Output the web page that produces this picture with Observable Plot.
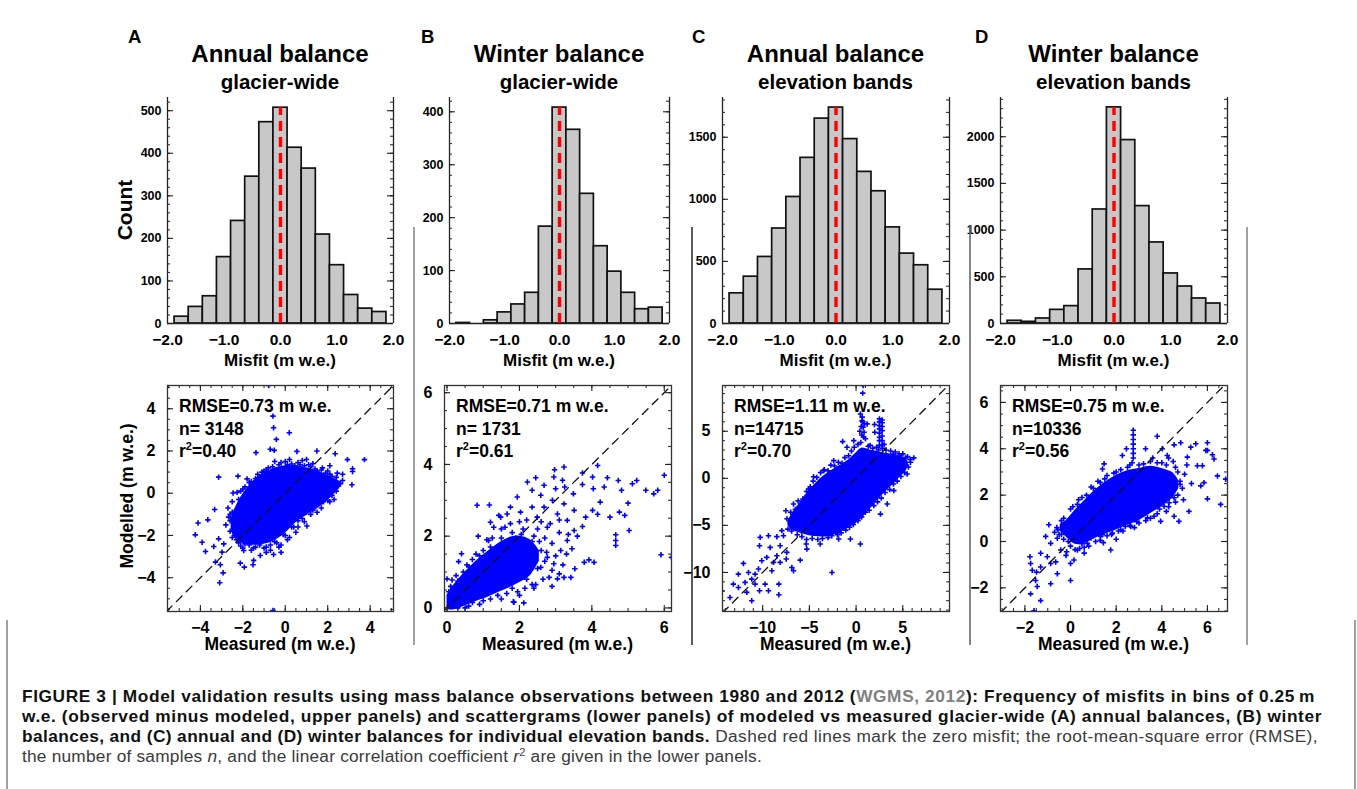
<!DOCTYPE html>
<html><head><meta charset="utf-8">
<script src="https://cdn.jsdelivr.net/npm/d3@7"></script>
<script src="https://cdn.jsdelivr.net/npm/@observablehq/plot@0.6"></script>
<style>
body{margin:0;background:#fff;}
#root{position:relative;width:1357px;height:789px;overflow:hidden;font-family:"Liberation Sans",Arial,sans-serif;background:#fff;}
.pl{position:absolute;}
#overlay{position:absolute;left:0;top:0;pointer-events:none;}
#caption{position:absolute;left:22px;top:686px;font-size:17.3px;line-height:20px;white-space:nowrap;color:#3a3a3a;}
#caption .ln{display:block;width:max-content;}
#caption b{color:#111;}
#caption .lnk{color:#808080;}
#caption .sup{font-size:11px;position:relative;top:-6px;}
</style></head>
<body><div id="root"></div>
<script>
// ---------- DATA ----------
const panelLetters = ["A", "B", "C", "D"];
const titles = ["Annual balance", "Winter balance", "Annual balance", "Winter balance"];
const subtitles = ["glacier-wide", "glacier-wide", "elevation bands", "elevation bands"];

// histogram bins (centres, m w.e.) and counts
const misfitBins = [-1.75, -1.5, -1.25, -1, -0.75, -0.5, -0.25, 0, 0.25, 0.5, 0.75, 1, 1.25, 1.5, 1.75];
const binWidth = 0.25;
const countsA = [16, 39, 64, 156, 241, 345, 473, 507, 413, 364, 209, 137, 67, 35, 27];
const countsB = [1, 0, 6, 21, 36, 58, 183, 408, 366, 245, 146, 98, 58, 27, 30];
const countsC = [243, 377, 536, 765, 1019, 1334, 1650, 1739, 1485, 1221, 1065, 774, 563, 469, 272];
const countsD = [29, 18, 54, 146, 186, 579, 1221, 2314, 1964, 1257, 868, 536, 396, 268, 214];
const histCounts = [countsA, countsB, countsC, countsD];

const histXTicks = [-2, -1, 0, 1, 2];
const histYTicksA = [0, 100, 200, 300, 400, 500];
const histYTicksB = [0, 100, 200, 300, 400];
const histYTicksC = [0, 500, 1000, 1500];
const histYTicksD = [0, 500, 1000, 1500, 2000];
const histYTicks = [histYTicksA, histYTicksB, histYTicksC, histYTicksD];

// scatter statistics
const rmseValues = ["0.73", "0.71", "1.11", "0.75"];
const nValues = [3148, 1731, 14715, 10336];
const r2Values = ["0.40", "0.61", "0.70", "0.56"];

const scatTicksA = [-4, -2, 0, 2, 4];
const scatTicksB = [0, 2, 4, 6];
const scatTicksC = [-10, -5, 0, 5];
const scatTicksD = [-2, 0, 2, 4, 6];
const scatTicks = [scatTicksA, scatTicksB, scatTicksC, scatTicksD];

// dense cores of the scatter clouds (outline: measured x, modelled lower/upper)
const coreAx = [-2.55, -2.4, -2.1, -1.7, -1.2, -0.6, 0.0, 0.5, 1.0, 1.5, 2.0, 2.4, 2.6];
const coreAlo = [-1.7, -2.1, -2.35, -2.45, -2.45, -2.3, -1.9, -1.4, -1.05, -0.75, -0.35, 0.05, 0.3];
const coreAhi = [-1.2, -0.8, -0.2, 0.35, 0.85, 1.15, 1.3, 1.3, 1.2, 1.05, 0.85, 0.65, 0.55];
const coreBx = [0.0, 0.2, 0.5, 0.8, 1.1, 1.4, 1.7, 2.0, 2.3, 2.55];
const coreBlo = [-0.05, -0.05, 0.05, 0.18, 0.28, 0.42, 0.55, 0.7, 0.9, 1.3];
const coreBhi = [0.35, 0.65, 1.0, 1.3, 1.55, 1.78, 1.95, 2.0, 1.9, 1.6];
const coreCx = [-7.3, -7.0, -6.0, -5.0, -4.0, -3.0, -2.0, -1.0, 0.0, 0.6, 1.5, 2.5, 3.5, 4.5, 5.3, 5.6];
const coreClo = [-5.0, -5.4, -5.8, -6.1, -6.2, -6.2, -5.9, -5.4, -4.8, -4.3, -3.3, -2.1, -1.1, -0.1, 0.7, 1.3];
const coreChi = [-4.6, -4.0, -2.6, -1.3, -0.2, 0.6, 1.2, 1.8, 2.7, 3.2, 3.0, 2.8, 2.6, 2.4, 2.1, 1.7];
const coreDx = [-0.45, -0.2, 0.2, 0.6, 1.0, 1.5, 2.0, 2.5, 3.0, 3.5, 4.0, 4.5, 4.75];
const coreDlo = [0.45, 0.2, -0.12, -0.1, 0.1, 0.3, 0.5, 0.7, 0.9, 1.2, 1.5, 1.9, 2.3];
const coreDhi = [0.75, 0.9, 1.35, 1.75, 2.15, 2.55, 2.85, 3.05, 3.15, 3.25, 3.15, 2.95, 2.6];

// individual (scattered) samples: [measured, modelled]
const pointsA = [[-0.78,5.1],[-0.58,3.65],[-0.55,3.1],[-0.42,2.55],[0.19,2.86],[-0.71,2.08],[-0.52,2.03],[-1.38,1.92],[0.55,1.98],[1.49,2.0],[2.35,1.87],[2.93,1.59],[3.73,1.59],[3.17,1.16],[3.17,1.03],[3.14,0.4],[2.35,0.2],[2.0,-0.34],[-3.14,0.76],[-2.23,0.81],[-1.8,0.68],[-1.57,0.26],[-2.27,0.04],[-2.46,0.01],[-3.33,-0.77],[-4.11,-1.41],[-3.65,-1.26],[-2.67,-1.13],[-4.24,-1.97],[-3.92,-2.32],[-3.76,-2.76],[-3.14,-2.16],[-3.37,-2.52],[-2.9,-2.4],[-2.98,-2.79],[-3.29,-3.26],[-3.06,-3.39],[-2.93,-3.77],[-3.09,-4.24],[-2.12,-3.31],[-1.93,-3.5],[-1.52,-3.39],[-1.49,-3.18],[-0.55,-2.9],[1.02,-1.55],[-0.58,-5.55],[-1.96,-2.71],[-1.18,-2.95],
[-2.4,-1.5],[-2.3,-0.8],[-2.1,0.1],[-1.7,0.5],[-1.3,0.9],[-0.8,1.2],[-0.3,1.35],[0.3,1.38],[0.9,1.3],[1.4,1.15],[1.9,0.95],[2.4,0.75],[2.5,0.35],[2.2,-0.1],[1.8,-0.4],[1.3,-0.8],[0.8,-1.2],[0.4,-1.6],[0.0,-2.0],[-0.4,-2.35],[-0.9,-2.55],[-1.4,-2.55],[-1.9,-2.4],[-2.3,-2.2],[-2.6,-1.8],[-2.5,-0.4],[-1.9,0.3],[-1.0,1.05],[0.0,1.5],[0.6,1.45],[1.2,1.25],[1.7,1.1],[2.1,0.9],[2.7,0.6],[2.3,-0.3],[1.5,-0.9],[0.6,-1.6],[0.2,-2.1],[-0.2,-2.45],[-0.7,-2.7],[-1.6,-2.7],[-2.1,-2.5],[-2.8,-1.5],[-2.6,-1.0],[2.1,1.3],[1.0,1.6],[-0.5,1.5],[1.6,-0.2],
[-2.5,-0.9],[-2.2,-0.3],[-2.0,0.2],[-1.8,0.05],[-1.6,0.55],[-1.4,0.7],[-1.2,0.75],[-1.1,1.0],[-0.9,1.1],[-0.6,1.25],[-0.4,1.1],[-0.2,1.45],[0.1,1.35],[0.2,1.6],[0.45,1.3],[0.7,1.35],[0.8,1.55],[1.1,1.35],[1.3,1.4],[1.5,1.05],[1.75,1.2],[2.0,1.05],[2.2,0.8],[2.45,0.95],[2.6,0.45],[2.4,0.1],[2.7,0.9],
[2.1,-0.4],[1.9,-0.2],[1.7,-0.7],[1.4,-0.55],[1.2,-1.0],[1.0,-0.9],[0.9,-1.35],[0.6,-1.3],[0.5,-1.85],[0.3,-1.6],[0.1,-2.2],[-0.1,-1.95],[-0.3,-2.55],[-0.5,-2.3],[-0.7,-2.45],[-1.0,-2.6],[-1.2,-2.45],[-1.5,-2.6],[-1.7,-2.45],[-2.0,-2.6],[-2.2,-2.35],[-2.5,-2.1],[-2.4,-1.8],[-2.6,-1.3],[-2.7,-0.7],[-2.3,-1.1],[-0.2,-2.8],[-0.9,-2.8]];
const pointsB = [[0,0.81],[0.14,0.78],[0.4,1.51],[0.32,1.29],[0.86,2.0],[1.17,2.87],[1.43,2.58],[1.2,2.39],[1.85,0.16],[2.12,0.14],[2.22,3.51],[2.45,3.63],[2.68,3.42],[2.95,3.65],[2.97,3.85],[3.23,3.93],[3.0,3.32],[3.25,3.37],[3.49,3.18],[3.74,3.76],[4.02,3.65],[4.16,3.97],[3.74,3.44],[4.04,3.32],[4.34,3.37],[4.43,3.63],[4.73,3.55],[4.82,3.28],[5.12,3.46],[5.24,3.55],[5.49,3.28],[5.71,3.18],[5.82,3.28],[6.0,3.7],[5.91,1.48],[6.2,1.41],[4.66,2.04],[4.66,1.88],[4.66,1.74],[5.03,2.16],[5.0,2.92],[4.91,2.58],[4.76,2.67],[4.5,2.53],[4.23,2.95],[4.16,2.61],[4.02,2.72],[3.83,2.53],[3.74,2.27],[3.92,1.34],[4.06,1.27],[3.79,1.27],[3.53,1.09],[3.42,0.85],[3.23,0.85],[3.05,0.81],[2.82,0.85],[2.45,0.65],[1.83,0.17],[0.83,2.86],[1.48,2.53],[1.75,2.81],[2.03,2.67],[2.35,2.81],[2.49,2.53],[2.68,2.81],[2.77,2.25],[3.05,2.62],[3.32,2.44],[3.51,2.16],[3.32,1.88],[3.14,1.6],[2.95,1.23],[2.77,1.41],[2.59,1.13],[2.31,1.32],[3.51,2.72],[3.23,2.9],[2.91,3.0],[2.59,3.14],[2.35,3.28],[1.94,3.09],[1.66,2.62],[1.29,2.25],[1.15,1.88],[3.19,3.56],
[0.3,0.75],[0.6,1.15],[0.9,1.45],[1.2,1.7],[1.5,1.95],[1.8,2.1],[2.1,2.2],[2.4,2.0],[2.6,1.6],[2.5,1.1],[2.2,0.8],[1.8,0.55],[1.4,0.35],[1.0,0.2],[0.6,0.05],[0.3,0.0],[0.1,0.35],[0.45,1.0],[2.7,1.3],[2.9,1.8],[3.1,2.1],[2.6,2.4],[2.0,2.4],[1.6,2.25],[1.1,1.9],[0.7,1.35],[3.3,1.5],[2.9,0.6],[2.4,0.55],[2.0,0.35],
[0.1,0.6],[0.25,0.9],[0.4,0.7],[0.55,1.2],[0.7,1.0],[0.8,1.5],[1.0,1.6],[1.05,1.25],[1.25,1.95],[1.35,1.65],[1.5,2.2],[1.6,1.8],[1.75,2.35],[1.9,1.95],[2.05,2.05],[2.2,2.45],[2.35,1.85],[2.5,2.2],[2.55,1.85],[2.7,1.95],[2.75,1.55],[2.85,2.35],[2.9,1.05],[3.0,1.45],[3.1,2.45],[3.2,1.2],[3.35,2.05],[3.45,1.65],[3.6,2.0],[3.1,0.95],[2.65,0.8],[2.35,0.65],[2.15,0.55],[1.95,0.45],[1.65,0.4],[1.5,0.25],[1.2,0.25],[0.9,0.1],[0.7,0.15],[0.5,0.0],[0.2,0.15],[0.05,0.45],[1.6,0.65],[1.9,0.9],[2.3,1.1]];
const pointsC = [[0.75,9.86],[0.71,9.05],[0.46,6.84],[0.64,6.13],[0.75,5.43],[1.18,5.78],[1.97,5.71],[2.0,4.89],[2.5,6.31],[2.5,5.25],[2.5,4.36],[2.79,6.2],[2.79,5.07],[2.79,4.0],[-1.44,3.9],[3.97,2.59],[5.29,2.17],[6.18,2.17],[4.94,0.82],[4.58,1.88],[2.25,-2.02],[0.46,-2.73],[0.46,-6.98],[-1.87,-6.45],[-0.61,-6.45],[-2.04,-5.74],[-2.58,-10.0],[-5.34,-6.98],[-4.55,0.17],[-5.09,-1.14],[-5.45,-2.02],[-6.7,-2.73],[-7.52,-3.44],[-6.52,-3.97],[-6.34,-5.14],[-7.95,-5.56],[-7.77,-6.1],[-8.48,-6.2],[-9.38,-6.1],[-10.27,-6.27],[-10.34,-7.16],[-9.2,-7.34],[-8.13,-7.16],[-7.41,-7.87],[-8.48,-8.23],[-7.48,-8.58],[-8.13,-8.93],[-6.88,-9.47],[-6.7,-9.82],[-8.84,-8.93],[-9.02,-9.82],[-9.56,-8.4],[-10.1,-8.76],[-10.45,-9.64],[-10.81,-10.18],[-11.52,-10.0],[-11.17,-10.71],[-10.81,-11.24],[-10.34,-11.95],[-11.17,-13.01],[-11.7,-12.12],[-11.88,-11.06],[-12.06,-9.04],[-12.6,-10.18],[-13.14,-11.24],[-12.6,-11.6],[-13.5,-12.66],[-14.4,-11.95],[-9.74,-11.24],[-9.38,-11.95],[-8.27,-12.37],[-8.27,-11.24],[-5.98,-8.69],[-5.27,-7.52],[-3.84,-6.98],[2.61,-3.8],[3.33,-2.73],[4.04,-1.31],[5.47,0.46],[5.83,1.7],[4.76,2.41],[-2.76,-4.15],[-4.55,-4.5],[-3.48,0.82],[-2.4,1.88],[-0.97,3.3],[-0.25,4.0],
[0.5,3.8],[0.8,4.4],[0.4,5.0],[2.5,3.5],[2.8,3.2],[3.0,3.6],[2.4,3.0],[1.5,3.5],[2.5,4.0],[2.5,4.8],[2.5,5.6],[2.5,6.0],[2.79,3.5],[2.79,4.5],[2.79,5.5],[2.79,5.9],[0.55,5.5],[0.7,6.0],[0.6,4.6],[0.85,4.9],[0.9,5.8],[0.65,6.5],[1.0,4.2],
[-7.4,-4.3],[-7.0,-3.6],[-6.5,-3.3],[-6.2,-2.4],[-5.7,-2.2],[-5.3,-1.4],[-4.9,-0.9],[-4.6,-0.3],[-4.2,0.1],[-3.8,0.6],[-3.4,0.9],[-3.0,0.8],[-2.7,1.4],[-2.3,1.3],[-1.9,1.7],[-1.5,1.6],[-1.2,2.2],[-0.8,2.4],[-0.5,2.9],[-0.2,3.3],[0.2,3.6],[1.3,3.4],[1.8,3.2],[2.2,3.3],[3.2,3.0],[3.7,2.9],[4.2,2.8],[4.6,2.6],[5.0,2.6],[5.5,2.3],[5.8,2.0],
[5.6,1.2],[5.2,0.6],[4.8,0.2],[4.4,-0.3],[4.0,-0.6],[3.6,-1.2],[3.1,-1.5],[2.7,-2.1],[2.3,-2.5],[1.9,-2.9],[1.4,-3.4],[1.0,-3.6],[0.6,-4.1],[0.2,-4.5],[-0.3,-4.9],[-0.7,-5.2],[-1.1,-5.5],[-1.6,-5.8],[-2.0,-6.0],[-2.6,-6.1],[-3.0,-6.3],[-3.6,-6.4],[-4.1,-6.5],[-4.7,-6.4],[-5.3,-6.5],[-5.8,-6.2],[-6.3,-6.0],[-6.9,-5.6],[-7.3,-5.4],[-7.0,-4.8]];
const pointsD = [[2.45,4.0],[2.27,3.71],[1.47,3.35],[1.4,3.13],[3.8,4.54],[4.02,4.0],[4.54,4.17],[4.83,4.26],[5.27,4.07],[5.49,4.22],[6.0,4.26],[6.0,3.93],[6.22,3.74],[6.29,3.56],[5.93,3.93],[5.56,3.27],[5.85,2.54],[5.71,2.4],[6.44,2.83],[6.8,2.69],[6.58,1.6],[6.0,1.84],[5.78,3.27],[5.12,3.64],[4.24,3.71],[3.29,4.0],[4.8,2.47],[4.54,1.89],[4.32,1.67],[4.1,1.52],[5.19,1.3],[4.75,0.87],[4.54,1.09],[3.95,0.87],[3.66,1.09],[3.37,1.02],[3.0,0.8],[2.64,0.65],[2.2,0.51],[1.83,0.36],[1.44,-0.05],[1.76,-0.37],[1.32,0.22],[0.74,-0.08],[0.3,-0.37],[0.0,-1.68],[0.15,-0.8],[-0.17,-0.44],[-0.95,0.72],[-1.09,0.22],[-0.87,-0.08],[-1.31,-0.51],[-1.02,-0.66],[-0.87,-0.95],[-1.31,-1.1],[-1.49,-1.32],[-1.78,-0.66],[-1.75,-0.95],[-1.68,-1.24],[-1.53,-1.68],[-1.46,-1.94],[-1.75,-2.26],[-1.31,-2.55],[-1.6,-2.99],[-0.58,-1.39],[-0.65,-0.88],[-0.43,-0.37],[-0.55,0.51],[-0.14,0.65],[-0.58,0.14],[-0.87,-1.82],[0.0,-0.95],[0.81,0.36],[0.44,0.8],
[2.75,4.8],[2.75,4.6],[2.75,4.4],[2.75,4.2],[2.75,4.0],[2.75,3.8],[2.75,3.6],[2.7,3.4],
[-0.4,0.9],[0.0,1.4],[0.5,1.9],[1.0,2.3],[1.5,2.7],[2.0,3.0],[2.5,3.2],[3.0,3.3],[3.5,3.45],[4.0,3.4],[4.6,3.2],[4.8,2.6],[4.7,2.0],[4.3,1.5],[3.8,1.2],[3.3,0.9],[2.8,0.6],[2.3,0.45],[1.8,0.3],[1.3,0.05],[0.8,-0.2],[0.4,-0.3],[0.0,-0.2],[-0.4,0.3],[5.0,2.9],[5.3,2.5],[5.1,3.3],[4.3,3.6],[3.6,3.6],[1.2,2.6],[0.3,1.6],[-0.7,0.4],[-0.2,-0.6],[0.6,-0.5],[2.0,0.1],
[-0.6,0.6],[-0.3,1.0],[0.1,1.5],[0.35,1.8],[0.7,2.0],[0.9,2.35],[1.3,2.55],[1.6,2.85],[1.9,2.95],[2.2,3.1],[2.6,3.3],[3.2,3.35],[3.8,3.4],[4.2,3.3],[4.5,3.45],[4.7,3.0],[4.9,2.3],[4.95,1.8],
[4.6,1.7],[4.2,1.3],[3.9,1.4],[3.5,1.0],[3.2,1.2],[2.9,0.85],[2.6,0.7],[2.4,0.65],[2.1,0.45],[1.9,0.6],[1.6,0.25],[1.4,0.3],[1.1,0.0],[0.9,0.15],[0.6,-0.25],[0.5,-0.1],[0.2,-0.35],[-0.1,0.0],[-0.3,0.1],[-0.5,0.3]];

// ---------- LAYOUT / SCALE SETTINGS ----------
const L = {
  histTop: 97, histBottom: 323, scatTop: 385, scatBottom: 611,
  histX: [[167, 393], [449, 669], [722, 949], [1000, 1227]],
  scatX: [[167, 393], [444, 671], [722, 949], [1000, 1227]]
};
const histYDomain = [[0, 531], [0, 427], [0, 1820], [0, 2420]];
const histMinorStep = [20, 20, 100, 100];
const scatXDomain = [[-5.55, 5.1], [-0.07, 6.2], [-14.3, 10.0], [-3.07, 6.88]];
const scatYDomain = [[-5.6, 5.1], [-0.1, 6.2], [-14.15, 9.86], [-3.02, 6.73]];
const scatMinorStep = [0.5, 0.5, 1, 0.5];
const cores = [[coreAx, coreAlo, coreAhi], [coreBx, coreBlo, coreBhi], [coreCx, coreClo, coreChi], [coreDx, coreDlo, coreDhi]];
const points = [pointsA, pointsB, pointsC, pointsD];

const FONT = "'Liberation Sans', Arial, Helvetica, sans-serif";
const plotStyle = `background:transparent;overflow:visible;font-family:${FONT};font-weight:bold;color:#000;`;
const minus = (s) => s.replace("-", "\u2212");
const fmt1 = (d) => minus(d.toFixed(1));
const fmt0 = (d) => minus(String(d));
const root = document.getElementById("root");

function place(svg, left, top) {
  const div = document.createElement("div");
  div.className = "pl";
  div.style.left = left + "px";
  div.style.top = top + "px";
  div.appendChild(svg);
  root.appendChild(div);
}
function sideTicks(vals, len, fw, sides, stroke) {
  const m = [];
  if (sides.includes("l")) m.push(Plot.ruleY(vals, {insetRight: fw - len, stroke, strokeWidth: 1.1}));
  if (sides.includes("r")) m.push(Plot.ruleY(vals, {insetLeft: fw - len, stroke, strokeWidth: 1.1}));
  return m;
}
function sideTicksX(vals, len, fh, sides, stroke) {
  const m = [];
  if (sides.includes("b")) m.push(Plot.ruleX(vals, {insetTop: fh - len, stroke, strokeWidth: 1.1}));
  if (sides.includes("t")) m.push(Plot.ruleX(vals, {insetBottom: fh - len, stroke, strokeWidth: 1.1}));
  return m;
}

// ---------- HISTOGRAMS ----------
histCounts.forEach((counts, i) => {
  const [x0, x1] = L.histX[i];
  const fw = x1 - x0, fh = L.histBottom - L.histTop;
  const ml = 50, mr = 10, mt = 6, mb = 32;
  const yd = histYDomain[i];
  const data = misfitBins.map((c, k) => ({a: c - binWidth / 2, b: c + binWidth / 2, n: counts[k]}));
  const minor = d3.range(yd[0], yd[1], histMinorStep[i]);
  const svg = Plot.plot({
    width: fw + ml + mr, height: fh + mt + mb,
    marginLeft: ml, marginRight: mr, marginTop: mt, marginBottom: mb,
    x: {domain: [-2, 2]}, y: {domain: yd},
    style: plotStyle,
    marks: [
      Plot.rectY(data, {x1: "a", x2: "b", y: "n", fill: "#c8c8c8", stroke: "#111", strokeWidth: 1.7}),
      Plot.ruleX([0], {y1: 0, y2: d3.max(counts), stroke: "#ff0000", strokeWidth: 3.4, strokeDasharray: "10,6"}),
      Plot.ruleX([-2, 2], {stroke: "#222", strokeWidth: 1.3}),
      Plot.ruleY([yd[0]], {stroke: "#222", strokeWidth: 1.3}),
      ...sideTicks(minor, 3, fw, "lr", "#333"),
      ...sideTicks(histYTicks[i], 6, fw, "lr", "#222"),
      Plot.axisX(histXTicks, {tickSize: 0, tickPadding: 10, fontSize: 15.5, fontWeight: "bold", label: null, tickFormat: fmt1}),
      Plot.axisY(histYTicks[i], {tickSize: 0, tickPadding: 6, fontSize: 12.5, fontWeight: "bold", label: null, tickFormat: fmt0})
    ]
  });
  place(svg, x0 - ml, L.histTop - mt);
});

// ---------- SCATTERGRAMS ----------
points.forEach((pts, i) => {
  const [x0, x1] = L.scatX[i];
  const fw = x1 - x0, fh = L.scatBottom - L.scatTop;
  const ml = 40, mr = 10, mt = 6, mb = 30;
  const xd = scatXDomain[i], yd = scatYDomain[i];
  const [cx, clo, chi] = cores[i];
  const core = cx.map((x, k) => ({x, lo: clo[k], hi: chi[k]}));
  const lo = Math.min(xd[0], yd[0]), hi = Math.max(xd[1], yd[1]);
  const st = scatMinorStep[i];
  const minorX = d3.range(Math.ceil(xd[0] / st) * st, xd[1], st);
  const minorY = d3.range(Math.ceil(yd[0] / st) * st, yd[1], st);
  const svg = Plot.plot({
    width: fw + ml + mr, height: fh + mt + mb,
    marginLeft: ml, marginRight: mr, marginTop: mt, marginBottom: mb,
    x: {domain: xd}, y: {domain: yd},
    style: plotStyle,
    marks: [
      Plot.areaY(core, {x: "x", y1: "lo", y2: "hi", fill: "#0000ff", curve: "catmull-rom", clip: true}),
      Plot.dot(pts, {x: (d) => d[0], y: (d) => d[1], symbol: "plus", r: 1.9, stroke: "#0000ff", strokeWidth: 1.6, clip: true}),
      Plot.line([lo, hi], {x: (d) => d, y: (d) => d, stroke: "#111", strokeWidth: 1.3, strokeDasharray: "8,6", clip: true}),
      Plot.frame({stroke: "#333", strokeWidth: 1.3}),
      ...sideTicks(minorY, 3, fw, "lr", "#333"),
      ...sideTicks(scatTicks[i], 6, fw, "lr", "#222"),
      ...sideTicksX(minorX, 3, fh, "bt", "#333"),
      ...sideTicksX(scatTicks[i], 6, fh, "bt", "#222"),
      Plot.axisX(scatTicks[i], {tickSize: 0, tickPadding: 10, fontSize: 16, fontWeight: "bold", label: null, tickFormat: fmt0}),
      Plot.axisY(scatTicks[i], {tickSize: 0, tickPadding: 12, fontSize: 16, fontWeight: "bold", label: null, tickFormat: fmt0})
    ]
  });
  place(svg, x0 - ml, L.scatTop - mt);
});

// ---------- TITLES, LABELS, SEPARATORS ----------
const ov = d3.select(root).append("svg").attr("id", "overlay").attr("width", 1357).attr("height", 789)
  .style("font-family", FONT).style("font-weight", "bold");
[[414, 227, 645, "#8a8a8a"], [692, 227, 645, "#333"], [970, 225, 645, "#666"], [1247, 227, 645, "#8a8a8a"],
 [7, 620, 789, "#8a8a8a"], [1355, 620, 789, "#8a8a8a"]].forEach(([x, ya, yb, c]) =>
  ov.append("line").attr("x1", x).attr("x2", x).attr("y1", ya).attr("y2", yb).attr("stroke", c).attr("stroke-width", 1.6));

const letterX = [128, 421, 692, 975];
panelLetters.forEach((t, i) => {
  const [x0, x1] = L.histX[i];
  const cx = (x0 + x1) / 2;
  ov.append("text").attr("x", letterX[i]).attr("y", 43).attr("font-size", 18.5).text(t);
  ov.append("text").attr("x", cx).attr("y", 62).attr("text-anchor", "middle").attr("font-size", 24).text(titles[i]);
  ov.append("text").attr("x", cx).attr("y", 89).attr("text-anchor", "middle").attr("font-size", 20.5).text(subtitles[i]);
  ov.append("text").attr("x", cx).attr("y", 366).attr("text-anchor", "middle").attr("font-size", 17).text("Misfit (m w.e.)");
  const [s0, s1] = L.scatX[i];
  ov.append("text").attr("x", (s0 + s1) / 2).attr("y", 650).attr("text-anchor", "middle").attr("font-size", 17.5).text("Measured (m w.e.)");
  const tx = s0 + 12, ty = L.scatTop + 27;
  ov.append("text").attr("x", tx).attr("y", ty).attr("font-size", 17.5).text(`RMSE=${rmseValues[i]} m w.e.`);
  ov.append("text").attr("x", tx).attr("y", ty + 22.6).attr("font-size", 17.5)
    .text("n=" + String(nValues[i]).padStart(5, "\u00a0"));
  const r = ov.append("text").attr("x", tx).attr("y", ty + 45.2).attr("font-size", 17.5);
  r.append("tspan").text("r");
  r.append("tspan").attr("dy", -7).attr("font-size", 11).text("2");
  r.append("tspan").attr("dy", 7).text("=" + r2Values[i]);
});
ov.append("text").attr("transform", "translate(132,210) rotate(-90)").attr("text-anchor", "middle").attr("font-size", 21).text("Count");
ov.append("text").attr("transform", "translate(133,496) rotate(-90)").attr("text-anchor", "middle").attr("font-size", 17.5).text("Modelled (m w.e.)");

// ---------- CAPTION ----------
const captionLines = [
  '<b>FIGURE 3 | Model validation results using mass balance observations between 1980 and 2012 (<span class="lnk">WGMS, 2012</span>): Frequency of misfits in bins of 0.25&thinsp;m</b>',
  '<b>w.e. (observed minus modeled, upper panels) and scattergrams (lower panels) of modeled vs measured glacier-wide (A) annual balances, (B) winter</b>',
  '<b>balances, and (C) annual and (D) winter balances for individual elevation bands.</b> Dashed red lines mark the zero misfit; the root-mean-square error (RMSE),',
  'the number of samples <i>n</i>, and the linear correlation coefficient <i>r</i><span class="sup">2</span> are given in the lower panels.'
];
const captionWidths = [1293, 1300, 1296, 740];
const cap = document.createElement("div");
cap.id = "caption";
root.appendChild(cap);
captionLines.forEach((h, k) => {
  const s = document.createElement("span");
  s.className = "ln";
  s.innerHTML = h;
  cap.appendChild(s);
  const w = s.getBoundingClientRect().width;
  const chars = s.textContent.length;
  s.style.letterSpacing = ((captionWidths[k] - w) / chars).toFixed(3) + "px";
});
</script>
</body></html>
